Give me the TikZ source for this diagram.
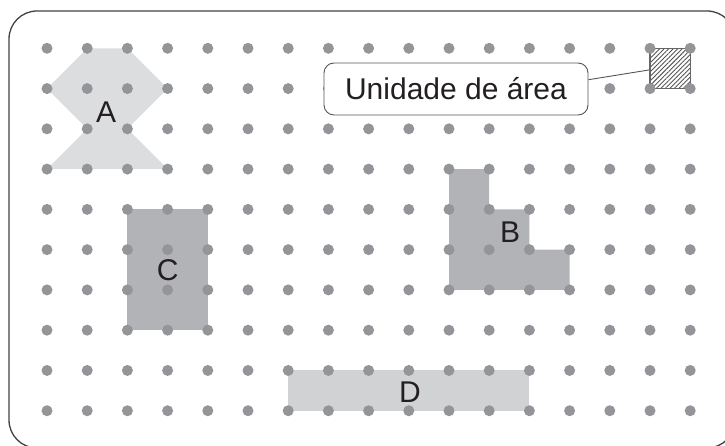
\documentclass[tikz,border=0pt]{standalone}
\usepackage{fontspec}
\setmainfont{Liberation Sans}
\usetikzlibrary{patterns.meta}
\definecolor{dotc}{HTML}{939598}
\definecolor{shA}{HTML}{DCDDDE}
\definecolor{shB}{HTML}{B2B3B6}
\definecolor{shD}{HTML}{D1D2D4}
\definecolor{ink}{HTML}{231F20}
\definecolor{edge}{HTML}{555555}
\tikzset{
  gdot/.style={fill=dotc},
  lbl/.style={font=\fontsize{30}{30}\selectfont, text=ink, inner sep=0pt, text height=22pt, text depth=0pt},
  callout/.style={draw=edge, line width=0.9pt, rounded corners=10pt, minimum width=264pt, minimum height=52pt, inner sep=0pt,
    font=\fontsize{30}{30}\selectfont, text=ink, text height=22pt, text depth=0pt},
  unitsq/.style={draw=edge!90, line width=1.4pt, minimum width=40.2pt, minimum height=40.3pt, inner sep=0pt,
    pattern={Lines[angle=45, distance=3.2pt, line width=0.9pt]}, pattern color=edge},
  frame/.style={draw=ink!85, line width=1.3pt, rounded corners=28pt},
  link/.style={draw=edge, line width=0.9pt}
}
\begin{document}
\begin{tikzpicture}[x=1pt,y=-1pt]
\useasboundingbox (0,0) rectangle (725,446);
\draw[frame] (9,11) rectangle (735,448);
\begin{scope}[shift={(47,48.3)},x=40.2pt,y=-40.27pt]
  \fill[shA] (1,0)--(2,0)--(3,1)--(2,2)--(3,3)--(0,3)--(1,2)--(0,1)--cycle;
  \fill[shB] (10,3)--(11,3)--(11,4)--(12,4)--(12,5)--(13,5)--(13,6)--(10,6)--cycle;
  \fill[shB] (2,4) rectangle (4,7);
  \fill[shD] (6,8) rectangle (12,9);
  \node[unitsq] (sq) at (15.5,0.5) {};
  \foreach \c in {0,...,16}{
    \foreach \r in {0,...,9}{
      \fill[gdot] (\c,\r) circle[radius=5.5pt];
    }
  }
  \node[lbl] (lA) at (1.47,1.56) {A};
  \node[lbl] (lB) at (11.52,4.56) {B};
  \node[lbl] (lC) at (3.0,5.5) {C};
  \node[lbl] (lD) at (9.03,8.53) {D};
\end{scope}
\node[callout, fill=white] (box) at (456,89) {Unidade de área};
\draw[link] (box.4.8) -- (sq.184);
\end{tikzpicture}
\end{document}
